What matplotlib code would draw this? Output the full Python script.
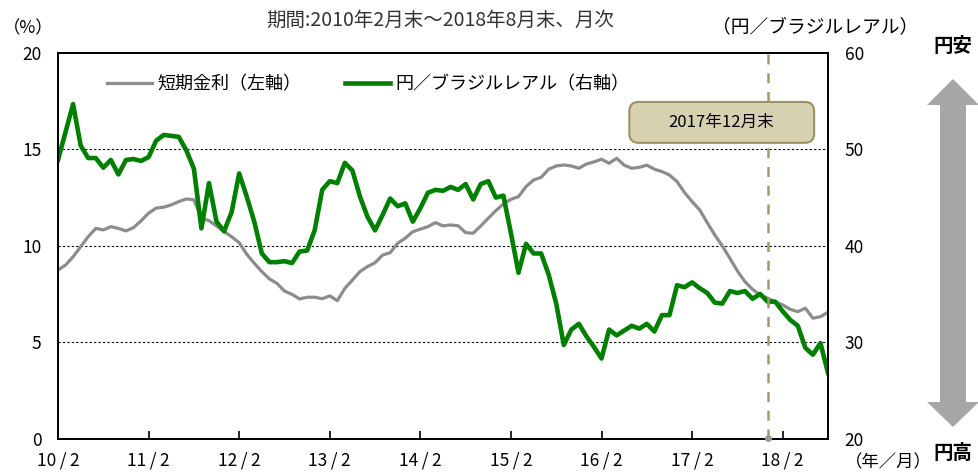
import matplotlib
import matplotlib.pyplot as plt
import numpy as np
from matplotlib.patches import FancyBboxPatch, Polygon

matplotlib.use("Agg")
plt.rcParams["font.family"] = ["Noto Sans CJK JP", "DejaVu Sans"]

# monthly, 2010/2 .. 2018/8 (103 months)
rate = [8.74, 9.0, 9.43, 9.95, 10.47, 10.9, 10.82, 10.99, 10.9, 10.77,
        10.94, 11.29, 11.69, 11.95, 12.0, 12.12, 12.29, 12.43, 12.38, 11.43,
        11.3, 11.03, 10.73, 10.47, 10.16, 9.56, 9.09, 8.66, 8.28, 8.05,
        7.65, 7.48, 7.24, 7.33, 7.33, 7.25, 7.4, 7.15, 7.79, 8.22,
        8.66, 8.92, 9.12, 9.52, 9.64, 10.13, 10.39, 10.73, 10.86, 10.99,
        11.2, 11.03, 11.08, 11.04, 10.68, 10.65, 11.03, 11.43, 11.82, 12.17,
        12.41, 12.55, 13.07, 13.41, 13.55, 13.97, 14.14, 14.19, 14.14, 14.02,
        14.24, 14.35, 14.49, 14.28, 14.54, 14.18, 14.02, 14.07, 14.18, 13.97,
        13.85, 13.67, 13.33, 12.76, 12.29, 11.86, 11.2, 10.56, 9.99, 9.35,
        8.69, 8.14, 7.74, 7.45, 7.28, 7.1, 6.93, 6.7, 6.58, 6.76,
        6.24, 6.32, 6.55]
jpy_brl = [48.9, 51.8, 54.7, 50.4, 49.1, 49.1, 48.1, 48.9, 47.4, 48.9,
           49.0, 48.8, 49.2, 50.9, 51.5, 51.4, 51.3, 49.9, 48.0, 41.8,
           46.5, 42.5, 41.5, 43.5, 47.5, 45.1, 42.5, 39.2, 38.3, 38.3,
           38.4, 38.2, 39.4, 39.5, 41.6, 45.8, 46.7, 46.5, 48.6, 47.8,
           45.1, 43.0, 41.6, 43.2, 44.9, 44.1, 44.4, 42.5, 43.9, 45.5,
           45.8, 45.7, 46.1, 45.8, 46.4, 44.8, 46.4, 46.7, 45.0, 45.2,
           41.3, 37.2, 40.2, 39.2, 39.2, 37.0, 34.0, 29.7, 31.3, 31.9,
           30.6, 29.5, 28.3, 31.3, 30.7, 31.2, 31.7, 31.4, 31.9, 31.1,
           32.8, 32.8, 35.9, 35.7, 36.2, 35.6, 35.1, 34.1, 34.0, 35.3,
           35.1, 35.3, 34.5, 35.0, 34.2, 34.2, 33.2, 32.3, 31.7, 29.4,
           28.7, 29.9, 26.8]
tick_labels = ["10/2", "11/2", "12/2", "13/2", "14/2", "15/2", "16/2", "17/2", "18/2"]
marker_month = 94  # 2017/12

x = np.arange(len(rate))

fig = plt.figure(figsize=(9.79, 4.73), dpi=100)
ax = fig.add_axes([58 / 979, 34.5 / 473, 770 / 979, 385.5 / 473])
ax2 = ax.twinx()

l1, = ax.plot(x, rate, color="#8c8c8c", lw=2.3, label="短期金利（左軸）", zorder=3)
l2, = ax2.plot(x, jpy_brl, color="#008000", lw=3.3, label="円／ブラジルレアル（右軸）")

ax.set_xlim(0, len(rate) - 1)
ax.set_ylim(0, 20)
ax2.set_ylim(20, 60)
ax.set_yticks([0, 5, 10, 15, 20])
ax2.set_yticks([20, 30, 40, 50, 60])
ax.set_xticks(np.arange(0, len(rate), 12))
# spaced slash, like the half-width slash of the original font
ax.set_xticklabels([t.replace("/", "\u2009/\u2009") for t in tick_labels])

for v in [5, 10, 15]:
    ax.axhline(v, color="black", lw=0.8, ls=(0, (2, 2)), zorder=1)

ax.tick_params(axis="x", direction="in", length=6, width=1.2, pad=9, labelsize=12.5)
ax.tick_params(axis="y", direction="in", length=0, pad=12, labelsize=12.5)
ax2.tick_params(axis="y", direction="in", length=0, pad=12, labelsize=12.5)
for a in (ax, ax2):
    for s in a.spines.values():
        s.set_linewidth(1.3)

# 2017/12 marker
ax2.axvline(marker_month, color="#a39a6b", lw=1.8, ls=(0, (4, 3.5)), zorder=2)
ax2.plot([marker_month], [20], "o", color="#999999", ms=4, clip_on=False, zorder=5)

box = FancyBboxPatch((0.742, 0.767), 0.24, 0.106, transform=ax.transAxes,
                     boxstyle="round,pad=0,rounding_size=0.012", mutation_aspect=2,
                     facecolor="#d6d1b1", edgecolor="#9b9162", lw=1.5, zorder=6)
ax2.add_patch(box)
ax2.text(0.861, 0.82, "2017年12月末", transform=ax.transAxes, ha="center", va="center",
         fontsize=12, zorder=7)

ax2.legend([l1, l2], [l1.get_label(), l2.get_label()], loc="upper left",
           bbox_to_anchor=(0.043, 0.985), ncol=2, frameon=False, fontsize=13,
           handlelength=2.5, columnspacing=2.4, handletextpad=0.3)

fig.text(440 / 979, 1 - 20 / 473, "期間:2010年2月末～2018年8月末、月次", ha="center", va="center",
         fontsize=14, color="#333333")
fig.text(28 / 979, 1 - 28 / 473, "（%）", ha="center", va="center", fontsize=12.5)
fig.text(815 / 979, 1 - 28 / 473, "（円／ブラジルレアル）", ha="center", va="center", fontsize=13.5)
fig.text(888 / 979, 1 - 462 / 473, "（年／月）", ha="center", va="center", fontsize=12.5)
fig.text(953 / 979, 1 - 46 / 473, "円安", ha="center", va="center", fontsize=14, fontweight="bold")
fig.text(953 / 979, 1 - 453 / 473, "円高", ha="center", va="center", fontsize=14, fontweight="bold")

# double arrow, pixel outline
pts = [(953, 79), (979, 105), (966, 105), (966, 402), (979, 402), (953, 427),
       (927, 402), (940, 402), (940, 105), (927, 105)]
arrow = Polygon([(px / 979, 1 - py / 473) for px, py in pts], closed=True,
                transform=fig.transFigure, facecolor="#a6a6a6", edgecolor="none")
fig.add_artist(arrow)

fig.savefig("out.png", dpi=100)
